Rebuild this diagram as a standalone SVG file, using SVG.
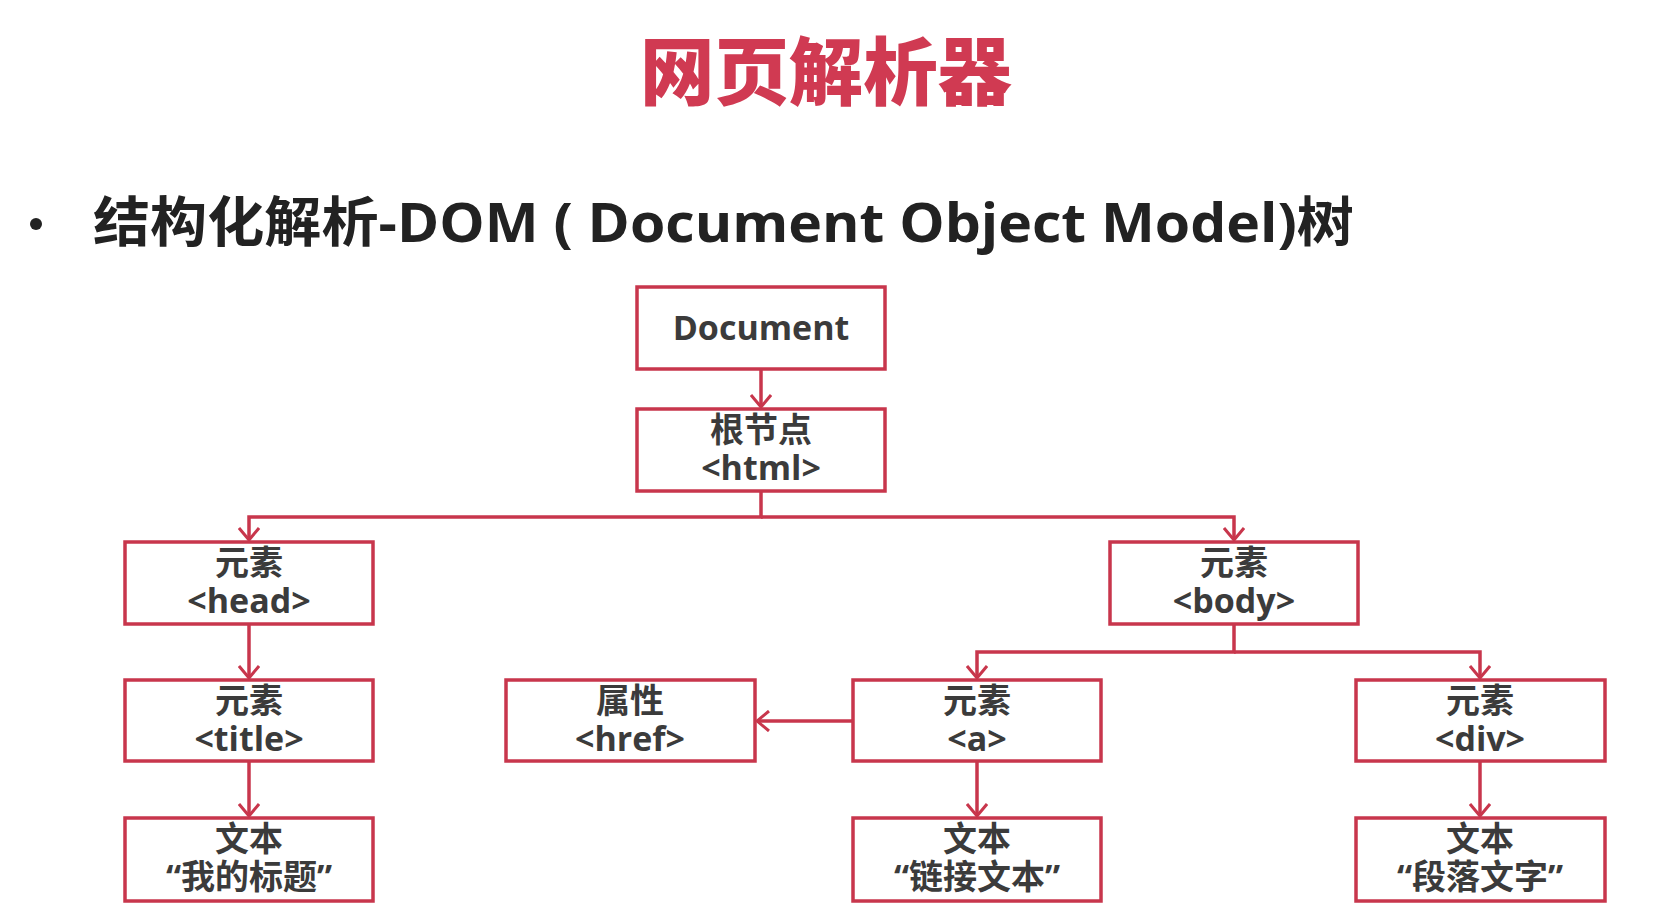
<svg xmlns="http://www.w3.org/2000/svg" width="1672" height="909" viewBox="0 0 1672 909">
<style>
.title{font-family:"Noto Sans CJK SC",sans-serif;font-weight:900;font-size:74px;fill:#d03a52;}
.sub{font-family:"Open Sans","Noto Sans CJK SC",sans-serif;font-weight:700;font-size:54px;fill:#222;}
.box{fill:#fff;stroke:#c8364c;stroke-width:3.5;}
.lbl{font-family:"Open Sans","Noto Sans CJK SC",sans-serif;font-weight:700;font-size:34px;fill:#3b3b3b;text-anchor:middle;}
.con{fill:none;stroke:#c8364c;stroke-width:3.5;}
</style>
<defs>
<marker id="arr" viewBox="0 0 14 22" refX="13" refY="11" markerWidth="14" markerHeight="22" markerUnits="userSpaceOnUse" orient="auto">
<path d="M1,1 L13,11 L1,21" fill="none" stroke="#c8364c" stroke-width="3"/>
</marker>
</defs>
<rect width="1672" height="909" fill="#fff"/>
<text class="title" x="826" y="99" text-anchor="middle" textLength="372" lengthAdjust="spacingAndGlyphs">网页解析器</text>
<circle cx="36" cy="224" r="6" fill="#222"/>
<text class="sub" x="93" y="242" textLength="1261" lengthAdjust="spacingAndGlyphs">结构化解析-DOM ( Document Object Model)树</text>
<g id="connectors">
<line class="con" x1="761" y1="369" x2="761" y2="407" marker-end="url(#arr)"/>
<polyline class="con" points="761,491 761,517 249,517 249,540" marker-end="url(#arr)"/>
<polyline class="con" points="761,517 1234,517 1234,540" marker-end="url(#arr)"/>
<line class="con" x1="249" y1="624" x2="249" y2="678" marker-end="url(#arr)"/>
<line class="con" x1="249" y1="761" x2="249" y2="816" marker-end="url(#arr)"/>
<polyline class="con" points="1234,624 1234,652 977,652 977,678" marker-end="url(#arr)"/>
<polyline class="con" points="1234,652 1480,652 1480,678" marker-end="url(#arr)"/>
<line class="con" x1="853" y1="721" x2="757" y2="721" marker-end="url(#arr)"/>
<line class="con" x1="977" y1="761" x2="977" y2="816" marker-end="url(#arr)"/>
<line class="con" x1="1480" y1="761" x2="1480" y2="816" marker-end="url(#arr)"/>
</g>
<g id="document"><rect class="box" x="637" y="287" width="248" height="82"/><text class="lbl" x="761" y="340">Document</text></g>
<g id="html"><rect class="box" x="637" y="409" width="248" height="82"/><text class="lbl"><tspan x="761" y="442">根节点</tspan><tspan x="761" y="480">&lt;html&gt;</tspan></text></g>
<g id="head"><rect class="box" x="125" y="542" width="248" height="82"/><text class="lbl"><tspan x="249" y="575">元素</tspan><tspan x="249" y="613">&lt;head&gt;</tspan></text></g>
<g id="body"><rect class="box" x="1110" y="542" width="248" height="82"/><text class="lbl"><tspan x="1234" y="575">元素</tspan><tspan x="1234" y="613">&lt;body&gt;</tspan></text></g>
<g id="title"><rect class="box" x="125" y="680" width="248" height="81"/><text class="lbl"><tspan x="249" y="713">元素</tspan><tspan x="249" y="751">&lt;title&gt;</tspan></text></g>
<g id="href"><rect class="box" x="506" y="680" width="249" height="81"/><text class="lbl"><tspan x="630" y="713">属性</tspan><tspan x="630" y="751">&lt;href&gt;</tspan></text></g>
<g id="a"><rect class="box" x="853" y="680" width="248" height="81"/><text class="lbl"><tspan x="977" y="713">元素</tspan><tspan x="977" y="751">&lt;a&gt;</tspan></text></g>
<g id="div"><rect class="box" x="1356" y="680" width="249" height="81"/><text class="lbl"><tspan x="1480" y="713">元素</tspan><tspan x="1480" y="751">&lt;div&gt;</tspan></text></g>
<g id="text-title"><rect class="box" x="125" y="818" width="248" height="83"/><text class="lbl"><tspan x="249" y="851">文本</tspan><tspan x="249" y="889">“我的标题”</tspan></text></g>
<g id="text-a"><rect class="box" x="853" y="818" width="248" height="83"/><text class="lbl"><tspan x="977" y="851">文本</tspan><tspan x="977" y="889">“链接文本”</tspan></text></g>
<g id="text-div"><rect class="box" x="1356" y="818" width="249" height="83"/><text class="lbl"><tspan x="1480" y="851">文本</tspan><tspan x="1480" y="889">“段落文字”</tspan></text></g>
</svg>
